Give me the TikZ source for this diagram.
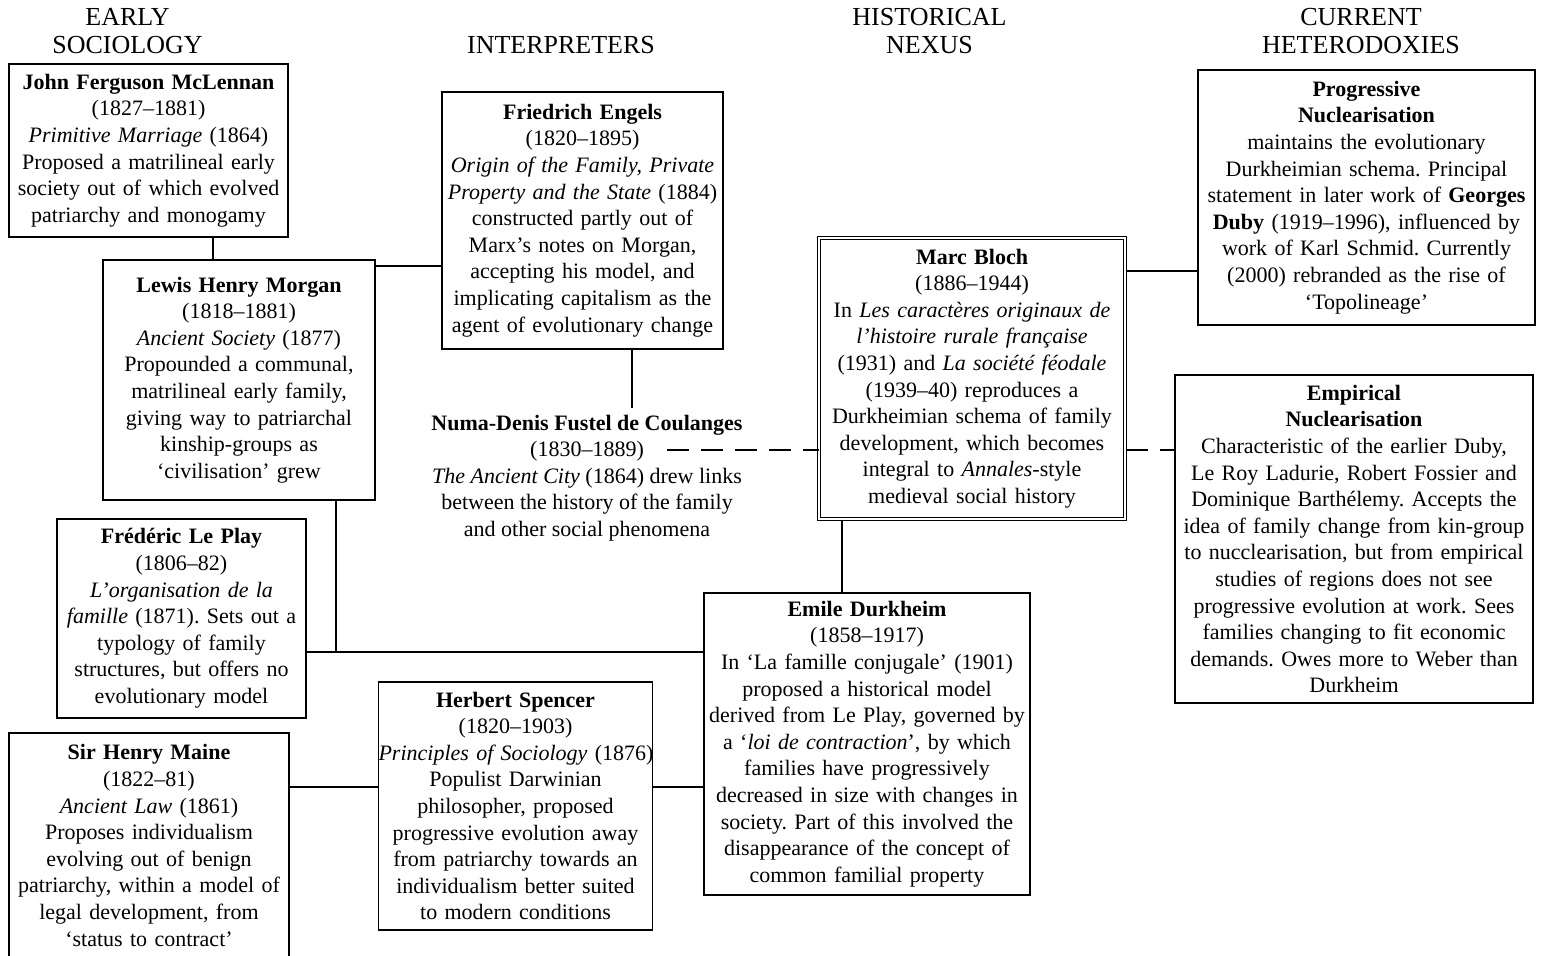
\documentclass[tikz,border=0pt]{standalone}
\usepackage{fontspec}
\setmainfont{Liberation Serif}
\frenchspacing

\begin{document}
\begin{tikzpicture}[x=0.5pt,y=-0.5pt,
    thinker/.style={draw, line width=0.7pt, align=center, inner xsep=2pt, inner ysep=3pt,
      font=\fontsize{11}{13.3}\selectfont},
    nexus/.style={thinker, double, line width=0.5pt, double distance=1.3pt},
    heading/.style={align=center, font=\fontsize{13}{14}\selectfont},
    link/.style={line width=0.7pt},
    dashlink/.style={link, dash pattern=on 11pt off 6pt}]
  \useasboundingbox (0,0) rectangle (1542,955);

  % column headings
  \node[heading] (hearly) at (127.5,31) {EARLY\\SOCIOLOGY};
  \node[heading] (hinterp) at (561,45) {INTERPRETERS};
  \node[heading] (hnexus) at (929.5,31) {HISTORICAL\\NEXUS};
  \node[heading] (hcurrent) at (1361,31) {CURRENT\\HETERODOXIES};

  % early sociology
  \node[thinker, text width=135.5pt, minimum height=86.5pt] (mclennan) at (148.5,150.5)
    {\textbf{John Ferguson McLennan}\\(1827--1881)\\\emph{Primitive Marriage} (1864)\\Proposed a matrilineal early\\society out of which evolved\\patriarchy and monogamy};
  \node[thinker, text width=132pt, minimum height=120pt] (morgan) at (239,380)
    {\textbf{Lewis Henry Morgan}\\(1818--1881)\\\emph{Ancient Society} (1877)\\Propounded a communal,\\matrilineal early family,\\giving way to patriarchal\\kinship-groups as\\‘civilisation’ grew};
  \node[thinker, text width=120.5pt, minimum height=99.5pt] (leplay) at (181.5,618.5)
    {\textbf{Frédéric Le Play}\\(1806--82)\\\emph{L’organisation de la}\\\emph{famille} (1871). Sets out a\\typology of family\\structures, but offers no\\evolutionary model};
  \node[thinker, text width=136pt, minimum height=112.5pt] (maine) at (149,845.5)
    {\textbf{Sir Henry Maine}\\(1822--81)\\\emph{Ancient Law} (1861)\\Proposes individualism\\evolving out of benign\\patriarchy, within a model of\\legal development, from\\‘status to contract’};

  % interpreters
  \node[thinker, text width=136.5pt, minimum height=128.5pt] (engels) at (582.5,220.5)
    {\textbf{Friedrich Engels}\\(1820--1895)\\\emph{Origin of the Family, Private}\\\emph{Property and the State} (1884)\\constructed partly out of\\Marx’s notes on Morgan,\\accepting his model, and\\implicating capitalism as the\\agent of evolutionary change};
  \node[thinker, draw=none] (fustel) at (587,478)
    {\textbf{Numa-Denis Fustel de Coulanges}\\(1830--1889)\\\emph{The Ancient City} (1864) drew links\\between the history of the family\\and other social phenomena};
  \node[thinker, text width=137pt, inner xsep=0pt, minimum height=124pt] (spencer) at (515.5,806)
    {\textbf{Herbert Spencer}\\(1820--1903)\\\mbox{\emph{Principles of Sociology} (1876)}\\Populist Darwinian\\philosopher, proposed\\progressive evolution away\\from patriarchy towards an\\individualism better suited\\to modern conditions};

  % historical nexus
  \node[nexus, text width=149pt, minimum height=140.5pt] (bloch) at (972,378.5)
    {\textbf{Marc Bloch}\\(1886--1944)\\In \emph{Les caractères originaux de}\\\emph{l’histoire rurale française}\\(1931) and \emph{La société féodale}\\(1939--40) reproduces a\\Durkheimian schema of family\\development, which becomes\\integral to \emph{Annales}-style\\medieval social history};
  \node[thinker, text width=159pt, minimum height=151pt] (durkheim) at (867,744)
    {\textbf{Emile Durkheim}\\(1858--1917)\\In ‘La famille conjugale’ (1901)\\proposed a historical model\\derived from Le Play, governed by\\a ‘\emph{loi de contraction}’, by which\\families have progressively\\decreased in size with changes in\\society. Part of this involved the\\disappearance of the concept of\\common familial property};

  % current heterodoxies
  \node[thinker, text width=164.5pt, minimum height=127.5pt] (progressive) at (1366.5,197.5)
    {\textbf{Progressive}\\\textbf{Nuclearisation}\\maintains the evolutionary\\Durkheimian schema. Principal\\statement in later work of \textbf{Georges}\\\textbf{Duby} (1919--1996), influenced by\\work of Karl Schmid. Currently\\(2000) rebranded as the rise of\\‘Topolineage’};
  \node[thinker, text width=175pt, minimum height=164pt] (empirical) at (1354,539)
    {\textbf{Empirical}\\\textbf{Nuclearisation}\\Characteristic of the earlier Duby,\\Le Roy Ladurie, Robert Fossier and\\Dominique Barthélemy. Accepts the\\idea of family change from kin-group\\to nucclearisation, but from empirical\\studies of regions does not see\\progressive evolution at work. Sees\\families changing to fit economic\\demands. Owes more to Weber than\\Durkheim};

  % connectors
  \draw[link] ([xshift=32.25pt]mclennan.south) -- ([xshift=32.25pt]mclennan.south |- morgan.north);
  \draw[link] ([yshift=57pt]morgan.east) -- ([yshift=57pt]morgan.east -| engels.west);
  \draw[link] ([xshift=24.75pt]engels.south) -- ([xshift=24.75pt]engels.south |- fustel.north);
  \coordinate (lpjoin) at ([yshift=-16.75pt]leplay.east);
  \draw[link] (lpjoin) -- (lpjoin -| durkheim.west);
  \draw[link] ([xshift=48.5pt]morgan.south) -- ([xshift=48.5pt]morgan.south |- lpjoin);
  \draw[link] ([yshift=9.5pt]spencer.west) -- ([yshift=9.5pt]spencer.west -| maine.east);
  \draw[link] ([yshift=9.5pt]spencer.east) -- ([yshift=9.5pt]spencer.east -| durkheim.west);
  \draw[link] ([xshift=-65pt]bloch.south) -- ([xshift=-65pt]bloch.south |- durkheim.north);
  \draw[link] ([yshift=53.75pt]bloch.east) -- ([yshift=53.75pt]bloch.east -| progressive.west);
  \coordinate (fusteldash) at (667,450);
  \draw[dashlink] (fusteldash) -- (fusteldash -| bloch.west);
  \draw[dashlink] (fusteldash -| bloch.east) -- (fusteldash -| empirical.west);
\end{tikzpicture}
\end{document}
